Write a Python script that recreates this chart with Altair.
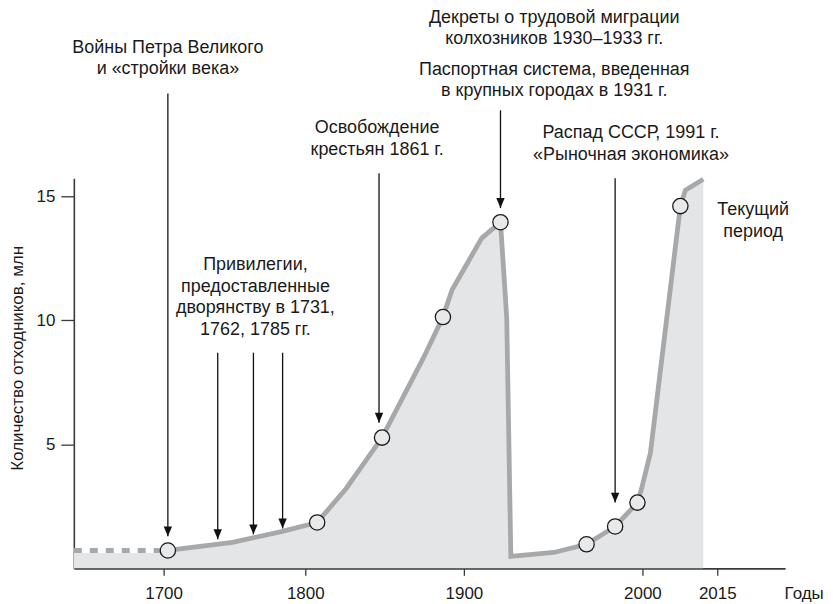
import altair as alt
import pandas as pd

FONT = "Liberation Sans, Arial, sans-serif"

# --- series (years on a schematic, piecewise time axis; values in mln) ---
years = [1636, 1703, 1748.6, 1783.8, 1807.5, 1825.8, 1848.4, 1874.8, 1886.8, 1892.5,
         1910, 1920.5, 1924, 1926.3, 1950.3, 1968.7, 1984.7, 1997.2, 1999.4, 2001.6,
         2007.6, 2008.6, 2012.2]
values = [0.72, 0.72, 1.05, 1.49, 1.85, 3.22, 5.27, 8.52, 10.13, 11.22,
          13.31, 13.95, 10.09, 0.48, 0.64, 0.97, 1.69, 2.65, 3.18, 4.66,
          14.6, 15.24, 15.68]
dashed_years = [1636, 1703]
dashed_values = [0.72, 0.72]
marker_years = [1703, 1807.5, 1848.4, 1886.8, 1920.5, 1968.7, 1984.7, 1997.2, 2007.6]
marker_values = [0.72, 1.85, 5.27, 10.13, 13.95, 0.97, 1.69, 2.65, 14.6]

# --- arrows (year, from value, to value) ---
arrow_years = [1703, 1738.2, 1763.4, 1784, 1846.5, 1920.5, 1984.7]
arrow_from = [19.14, 8.69, 8.69, 8.69, 15.92, 18.46, 15.72]
arrow_to = [1.29, 1.17, 1.37, 1.61, 5.87, 14.52, 2.65]

# --- annotation texts ---
note_texts = ["Войны Петра Великого", "и «стройки века»",
              "Привилегии,", "предоставленные", "дворянству в 1731,", "1762, 1785 гг.",
              "Освобождение", "крестьян 1861 г.",
              "Декреты о трудовой миграции", "колхозников 1930–1933 гг.",
              "Паспортная система, введенная", "в крупных городах в 1931 г.",
              "Распад СССР, 1991 г.", "«Рыночная экономика»",
              "Текущий", "период"]
note_years = [1703, 1703,
              1764.8, 1764.8, 1764.8, 1764.8,
              1845.3, 1845.3,
              1950.6, 1950.6, 1950.6, 1950.6,
              1993.6, 1993.6,
              2022.2, 2022.2]
note_values = [20.99, 20.14,
               12.22, 11.34, 10.49, 9.61,
               17.73, 16.85,
               22.17, 21.33, 20.10, 19.22,
               17.53, 16.65,
               14.43, 13.55]

x_ticks = [1700, 1800, 1900, 2000, 2015]
y_ticks = [5, 10, 15]

series = pd.DataFrame({"year": years, "value": values})
solid = series.iloc[1:].reset_index(drop=True)
dashed = pd.DataFrame({"year": dashed_years, "value": dashed_values})
markers = pd.DataFrame({"year": marker_years, "value": marker_values})
arrows = pd.DataFrame({"year": arrow_years, "value": arrow_from, "value2": arrow_to})
notes = pd.DataFrame({"year": note_years, "value": note_values, "label": note_texts})

AX = "#3a3a3a"
x_enc = alt.X(
    "year:Q",
    scale=alt.Scale(domain=[1636, 1700, 1800, 1900, 2000, 2015, 2028.6],
                    range=[0, 90, 232, 391, 570, 645, 713], nice=False, zero=False),
    axis=alt.Axis(values=x_ticks, format="d", title="Годы", titleX=712, titleY=17,
                  titleAlign="left", titleBaseline="top", titleFontWeight="normal",
                  titleFontSize=17, titleFont=FONT, titleColor="#1a1a1a",
                  tickSize=7, labelPadding=10, labelFlush=False, grid=False,
                  domainColor=AX, domainWidth=1.6, tickColor=AX, tickWidth=1.3,
                  labelFontSize=17, labelFont=FONT, labelColor="#1a1a1a"),
)
y_enc = alt.Y(
    "value:Q",
    scale=alt.Scale(domain=[0, 15.72], nice=False, zero=True),
    axis=alt.Axis(values=y_ticks, title="Количество отходников, млн", titleX=-56, titleY=180,
                  titleAngle=270, titleAlign="center", titleBaseline="middle",
                  titleFontWeight="normal", titleFontSize=17, titleFont=FONT,
                  titleColor="#1a1a1a",
                  tickSize=13, labelPadding=6, grid=False,
                  domainColor=AX, domainWidth=1.6, tickColor=AX, tickWidth=1.3,
                  labelFontSize=17, labelFont=FONT, labelColor="#1a1a1a"),
)

area = alt.Chart(series).mark_area(color="#e4e5e7", opacity=1).encode(x=x_enc, y=y_enc)
dash_under = alt.Chart(dashed).mark_line(color="white", strokeWidth=4.8).encode(x=x_enc, y=y_enc)
dash_line = alt.Chart(dashed).mark_line(color="#a7a8aa", strokeWidth=4.8,
                                        strokeDash=[8, 8]).encode(x=x_enc, y=y_enc)
line = alt.Chart(solid).mark_line(color="#a7a8aa", strokeWidth=4.8).encode(x=x_enc, y=y_enc)
dots = alt.Chart(markers).mark_circle(size=235, fill="#e8e9eb", stroke="#1a1a1a",
                                      strokeWidth=1.3, opacity=1).encode(x=x_enc, y=y_enc)
rules = alt.Chart(arrows).mark_rule(color="#111111", strokeWidth=1.3).encode(
    x=x_enc, y=y_enc, y2="value2:Q")
heads = alt.Chart(arrows).mark_point(shape="M0,0L-0.42,-1L0.42,-1Z", size=400, filled=True,
                                     color="#111111", opacity=1).encode(
    x=x_enc, y=alt.Y("value2:Q", scale=alt.Scale(domain=[0, 15.72], nice=False, zero=True)))
texts = alt.Chart(notes).mark_text(font=FONT, fontSize=18, color="#1a1a1a",
                                   align="center", baseline="middle").encode(
    x=x_enc, y=y_enc, text="label:N")

chart = alt.layer(area, dash_under, dash_line, line, rules, heads, dots, texts).properties(
    width=713, height=391,
    autosize=alt.AutoSizeParams(type="none"),
    padding={"left": 66, "top": 170, "right": 40, "bottom": 36},
    background="white",
).configure_view(stroke=None)

chart.save("out.html", embed_options={"renderer": "svg", "actions": False})
